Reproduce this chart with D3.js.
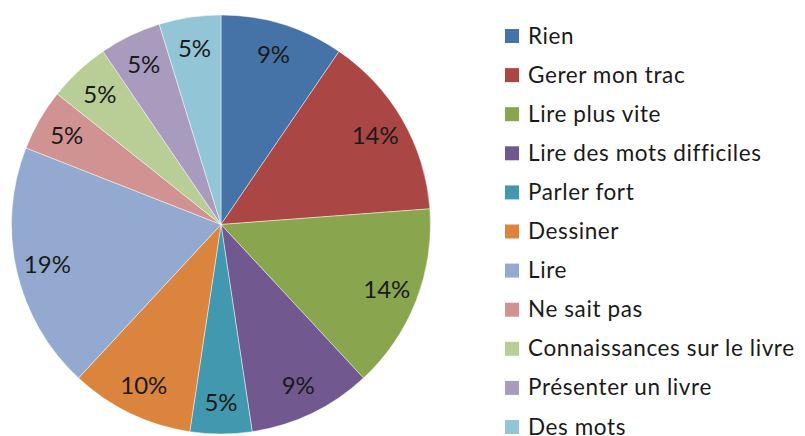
<!DOCTYPE html>
<html>
<head>
<meta charset="utf-8">
<script src="https://cdn.jsdelivr.net/npm/d3@7"></script>
<style>
  body { margin: 0; background: #fff; }
  svg { display: block; font-family: Lato, "Open Sans", sans-serif; }
</style>
</head>
<body>
<div id="chart"></div>
<script>
// Data (answer counts, labels as shown on the slices)
const categories = ["Rien", "Gerer mon trac", "Lire plus vite", "Lire des mots difficiles",
  "Parler fort", "Dessiner", "Lire", "Ne sait pas", "Connaissances sur le livre",
  "Présenter un livre", "Des mots"];
const counts = [2, 3, 3, 2, 1, 2, 4, 1, 1, 1, 1];
const pctLabels = ["9%", "14%", "14%", "9%", "5%", "10%", "19%", "5%", "5%", "5%", "5%"];
const colors = ["#4572A7", "#AA4643", "#89A54E", "#71588F", "#4198AF", "#DB843D",
  "#93A9CF", "#D19392", "#B9CD96", "#A99BBD", "#92C5D6"];

const width = 805, height = 436;
const cx = 221, cy = 224.5, radius = 209.5;

const svg = d3.select("#chart").append("svg")
  .attr("width", width)
  .attr("height", height);

const color = d3.scaleOrdinal().domain(categories).range(colors);

const data = categories.map((c, i) => ({ name: c, value: counts[i], label: pctLabels[i] }));

const pie = d3.pie().value(d => d.value).sort(null);
const arcs = pie(data);

const arc = d3.arc().innerRadius(0).outerRadius(radius);
// label positions sit about 85% out from the centre
const labelArc = d3.arc().innerRadius(radius * 0.85).outerRadius(radius * 0.85);

const g = svg.append("g").attr("transform", `translate(${cx},${cy})`);

g.selectAll("path.slice")
  .data(arcs)
  .enter()
  .append("path")
  .attr("class", "slice")
  .attr("d", arc)
  .attr("fill", d => color(d.data.name))
  .attr("stroke", "rgba(255,255,255,0.45)")
  .attr("stroke-width", 1);

g.selectAll("text.pct")
  .data(arcs)
  .enter()
  .append("text")
  .attr("class", "pct")
  .attr("transform", d => `translate(${labelArc.centroid(d)})`)
  .attr("text-anchor", "middle")
  .attr("dy", "0.36em")
  .style("font-size", "24px")
  .style("fill", "#1a1a1a")
  .text(d => d.data.label);

// Legend
const legendY = d3.scalePoint().domain(categories).range([36, 427]);

const legend = svg.append("g");
const rows = legend.selectAll("g")
  .data(categories)
  .enter()
  .append("g")
  .attr("transform", d => `translate(505,${legendY(d)})`);

rows.append("rect")
  .attr("x", 0)
  .attr("y", -7)
  .attr("width", 14)
  .attr("height", 14)
  .attr("fill", d => color(d));

rows.append("text")
  .attr("x", 23)
  .attr("y", 7.5)
  .style("font-size", "22.5px")
  .style("letter-spacing", "0.6px")
  .style("fill", "#1a1a1a")
  .text(d => d);
</script>
</body>
</html>
